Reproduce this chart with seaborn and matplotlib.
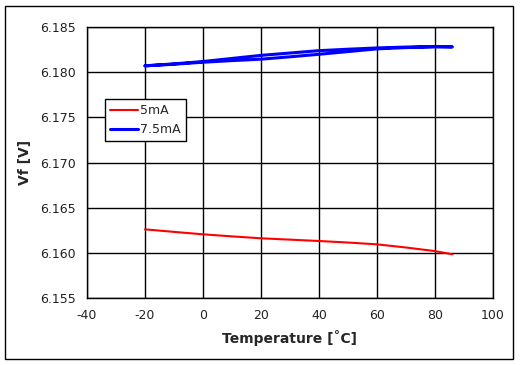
import numpy as np
import pandas as pd
import matplotlib
matplotlib.use('Agg')
import matplotlib.pyplot as plt
import seaborn as sns
from matplotlib.patches import Rectangle

# 5mA curve
temp_5 = [-20, -10, 0, 10, 20, 30, 40, 50, 60, 70, 80, 86]
vf_5 = [6.16260, 6.16232, 6.16205, 6.16182, 6.16161, 6.16146, 6.16131,
        6.16114, 6.16094, 6.16059, 6.16019, 6.15984]

# 7.5mA curve (heating then cooling, small hysteresis loop)
temp_75 = [-20, -10, 0, 10, 20, 30, 40, 50, 60, 70, 80, 86,
           80, 70, 60, 50, 40, 30, 20, 10, 0, -10, -20]
vf_75 = [6.18070, 6.18088, 6.18110, 6.18128, 6.18144, 6.18170, 6.18198,
         6.18228, 6.18258, 6.18272, 6.18280, 6.18280,
         6.18284, 6.18278, 6.18268, 6.18254, 6.18238, 6.18212, 6.18186,
         6.18152, 6.18118, 6.18092, 6.18070]

x_ticks = [-40, -20, 0, 20, 40, 60, 80, 100]
y_ticks = [6.155, 6.160, 6.165, 6.170, 6.175, 6.180, 6.185]

sns.set_style("white")
plt.rcParams['font.family'] = ['DejaVu Sans']
plt.rcParams['axes.unicode_minus'] = False

df5 = pd.DataFrame({'T': temp_5, 'Vf': vf_5})
df75 = pd.DataFrame({'T': temp_75, 'Vf': vf_75})

fig = plt.figure(figsize=(5.23, 3.65), dpi=100)
fig.patch.set_facecolor('white')
fig.patches.append(Rectangle((5 / 523, 6 / 365), 508 / 523, 353 / 365,
                             transform=fig.transFigure, fill=False,
                             edgecolor='black', linewidth=1.0))

ax = fig.add_axes([87 / 523, 67 / 365, 406 / 523, 271 / 365])
sns.lineplot(data=df5, x='T', y='Vf', ax=ax, color='#ff0000', linewidth=1.5,
             sort=False, estimator=None, errorbar=None, label='5mA')
sns.lineplot(data=df75, x='T', y='Vf', ax=ax, color='#0000ff', linewidth=2.2,
             sort=False, estimator=None, errorbar=None, label='7.5mA')

ax.set_xlim(-40, 100)
ax.set_ylim(6.155, 6.185)
ax.set_xticks(x_ticks)
ax.set_yticks(y_ticks)
ax.set_yticklabels([f'{v:.3f}' for v in y_ticks])
ax.tick_params(axis='both', length=0, labelsize=9, colors='#222222', pad=8)
ax.grid(True, color='black', linewidth=1.0)
for s in ax.spines.values():
    s.set_color('black')
    s.set_linewidth(1.0)

ax.set_xlabel('Temperature [˚C]', fontsize=10, fontweight='bold', labelpad=6)
ax.set_ylabel('Vf [V]', fontsize=10, fontweight='bold', labelpad=6)

leg = ax.legend(loc='upper left', bbox_to_anchor=(18 / 406, 1 - 72 / 271),
                fontsize=9, frameon=True, fancybox=False, framealpha=1,
                edgecolor='black', handlelength=2.2, handletextpad=0.2,
                borderpad=0.4, labelspacing=0.5, borderaxespad=0)
leg.get_frame().set_linewidth(1.0)

fig.savefig('out.png', dpi=100)
